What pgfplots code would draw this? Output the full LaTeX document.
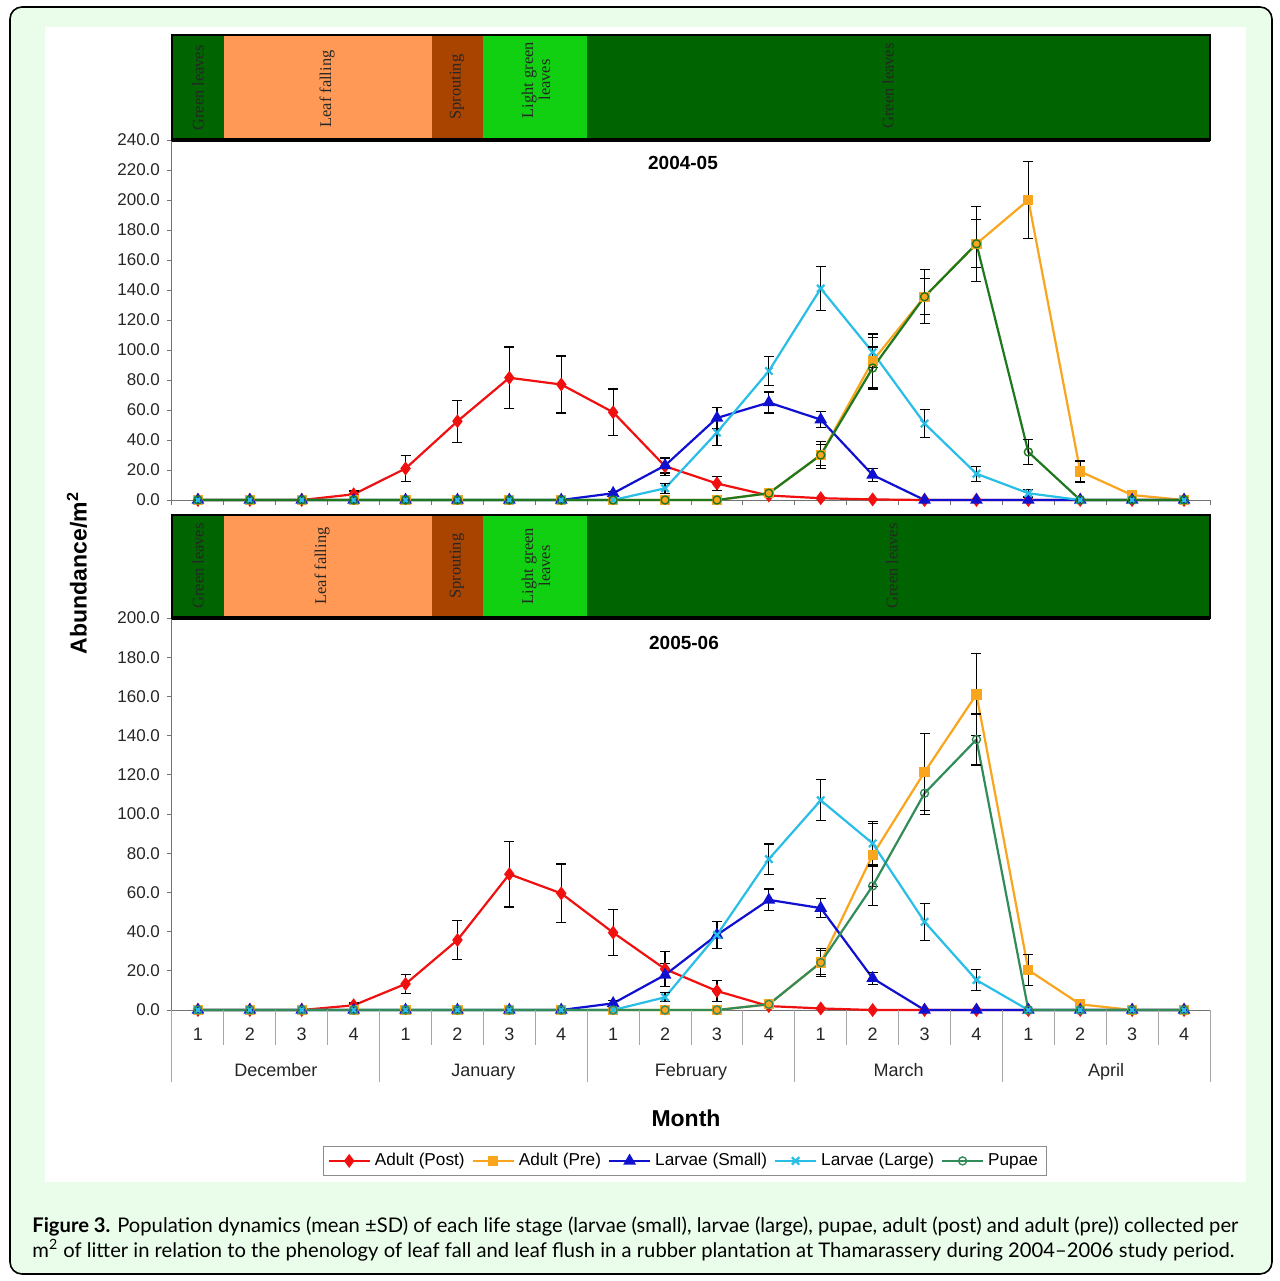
\documentclass[border=0pt]{standalone}
\usepackage{pgfplots}
\pgfplotsset{compat=1.18}
\usepackage{fontspec}
\setmainfont{Liberation Sans}
\newfontfamily\serifband{Liberation Serif}
\newfontfamily\capfont{Lato}
\definecolor{bgg}{RGB}{234,253,235}
\definecolor{bgreen}{RGB}{0,100,0}
\definecolor{leaffall}{RGB}{255,153,85}
\definecolor{sprout}{RGB}{169,67,0}
\definecolor{lgreen}{RGB}{17,208,17}
\definecolor{cred}{RGB}{240,16,16}
\definecolor{corange}{RGB}{250,165,30}
\definecolor{cblue}{RGB}{16,16,208}
\definecolor{ccyan}{RGB}{40,190,230}
\definecolor{cpupa}{RGB}{30,120,30}
\definecolor{cpupb}{RGB}{50,140,90}
\pgfplotsset{
  base/.style={
    scale only axis, width=519pt, xmin=-0.5, xmax=19.5, clip=false,
    axis x line*=bottom, axis y line*=left,
    axis line style={draw=black!55, line width=0.5pt},
    tick align=outside, major tick length=2.5pt,
    tick style={draw=black!55, line width=0.5pt},
    ytick pos=left,
    yticklabel style={font=\fontsize{8.5}{10}\selectfont, text=black!85,
      /pgf/number format/fixed, /pgf/number format/fixed zerofill,
      /pgf/number format/precision=1, /pgf/number format/assume math mode=true},
  },
  ap/.style={color=cred, line width=1.1pt, mark=diamond*, mark size=2.6pt, mark options={solid, fill=cred}},
  apr/.style={color=corange, line width=1.1pt, mark=square*, mark size=2pt, mark options={solid, fill=corange}},
  ls/.style={color=cblue, line width=1.1pt, mark=triangle*, mark size=2.6pt, mark options={solid, fill=cblue}},
  ll/.style={color=ccyan, line width=1.1pt, mark=x, mark size=2.6pt, mark options={solid}},
  pua/.style={color=cpupa, line width=1.1pt, mark=o, mark size=2pt, mark options={solid, line width=0.7pt}},
  pub/.style={color=cpupb, line width=1.1pt, mark=o, mark size=2pt, mark options={solid, line width=0.7pt}},
  err/.style={draw=none, mark=none, forget plot,
    error bars/.cd, y dir=both, y explicit,
    error bar style={draw=black, line width=0.6pt},
    error mark options={draw=black, rotate=90, mark size=2.5pt, line width=0.6pt}},
}
\begin{document}
\begin{tikzpicture}[x=0.5pt,y=-0.5pt]
\useasboundingbox (0,0) rectangle (1280,1281);
\fill[white] (0,0) rectangle (1280,1281);
\draw[line width=0.8pt, fill=bgg, rounded corners=6pt] (10,7) rectangle (1272,1274);
\fill[white] (45,27) rectangle (1246,1182);

% ---------------- top axis 2004-05
\begin{axis}[base, at={(86pt,-250pt)}, anchor=south west, height=180pt,
  ymin=0, ymax=240, ytick={0,20,...,240},
  xtick={-0.5,0.5,...,19.5}, xticklabels={}]
\addplot[ap] coordinates {(0,0)(1,0)(2,0)(3,3.8)(4,21)(5,52.5)(6,81.5)(7,77)(8,58.5)(9,22.5)(10,11)(11,3)(12,1.2)(13,0.4)(14,0)(15,0)(16,0)(17,0)(18,0)(19,0)};
\addplot[err] coordinates {(3,3.8)+-(0,2.2)(4,21)+-(0,8.5)(5,52.5)+-(0,14)(6,81.5)+-(0,20.5)(7,77)+-(0,19)(8,58.5)+-(0,15.5)(9,22.5)+-(0,6)(10,11)+-(0,4.5)};
\addplot[apr] coordinates {(0,0)(1,0)(2,0)(3,0)(4,0)(5,0)(6,0)(7,0)(8,0)(9,0)(10,0)(11,4.5)(12,30)(13,92.7)(14,135.5)(15,170.8)(16,200)(17,19)(18,3.3)(19,0)};
\addplot[err] coordinates {(11,4.5)+-(0,1.5)(12,30)+-(0,9)(13,92.7)+-(0,18)(14,135.5)+-(0,18)(15,170.8)+-(0,25)(16,200)+-(0,25.5)(17,19)+-(0,7)(18,3.3)+-(0,2.2)};
\addplot[ls] coordinates {(0,0)(1,0)(2,0)(3,0)(4,0)(5,0)(6,0)(7,0)(8,4.5)(9,23)(10,54.7)(11,65)(12,53.6)(13,16.7)(14,0)(15,0)(16,0)(17,0)(18,0)(19,0)};
\addplot[err] coordinates {(8,4.5)+-(0,1)(9,23)+-(0,5)(10,54.7)+-(0,7)(11,65)+-(0,7)(12,53.6)+-(0,5.5)(13,16.7)+-(0,4.5)};
\addplot[ll] coordinates {(0,0)(1,0)(2,0)(3,0)(4,0)(5,0)(6,0)(7,0)(8,0)(9,7.8)(10,45)(11,86)(12,141)(13,98.5)(14,51)(15,17.5)(16,4.5)(17,0)(18,0)(19,0)};
\addplot[err] coordinates {(9,7.8)+-(0,3.3)(10,45)+-(0,8.5)(11,86)+-(0,9.5)(12,141)+-(0,14.5)(13,98.5)+-(0,10)(14,51)+-(0,9.5)(15,17.5)+-(0,5)(16,4.5)+-(0,2.5)};
\addplot[pua] coordinates {(0,0)(1,0)(2,0)(3,0)(4,0)(5,0)(6,0)(7,0)(8,0)(9,0)(10,0)(11,4.5)(12,30)(13,88)(14,135.5)(15,170.8)(16,32)(17,0)(18,0)(19,0)};
\addplot[err] coordinates {(11,4.5)+-(0,1)(12,30)+-(0,7)(13,88)+-(0,14)(14,135.5)+-(0,12)(15,170.8)+-(0,16)(16,32)+-(0,8.5)};
\end{axis}

% ---------------- bottom axis 2005-06
\begin{axis}[base, at={(86pt,-505pt)}, anchor=south west, height=196pt,
  ymin=0, ymax=200, ytick={0,20,...,200},
  xtick={0,...,19}, xticklabels={1,2,3,4,1,2,3,4,1,2,3,4,1,2,3,4,1,2,3,4},
  xtick style={draw=none},
  xticklabel style={font=\fontsize{9}{10}\selectfont, text=black!85, yshift=-3pt},
  legend columns=5,
  legend style={at={(0.494,-0.385)}, anchor=center, draw=black!45, line width=0.4pt,
    font=\fontsize{8.6}{10}\selectfont, inner xsep=2pt, inner ysep=1.5pt,
    /tikz/every even column/.append style={column sep=1.5pt}},
  legend image code/.code={\draw[mark repeat=2,mark phase=2] plot coordinates {(0cm,0cm) (0.36cm,0cm) (0.72cm,0cm)};}]
\addplot[ap] coordinates {(0,0)(1,0)(2,0)(3,2.4)(4,13.3)(5,35.7)(6,69.3)(7,59.5)(8,39.5)(9,20.9)(10,9.7)(11,2)(12,0.8)(13,0)(14,0)(15,0)(16,0)(17,0)(18,0)(19,0)};
\addplot[err] coordinates {(3,2.4)+-(0,1.2)(4,13.3)+-(0,5)(5,35.7)+-(0,10)(6,69.3)+-(0,16.7)(7,59.5)+-(0,15)(8,39.5)+-(0,11.7)(9,20.9)+-(0,8.9)(10,9.7)+-(0,5.5)};
\addplot[apr] coordinates {(0,0)(1,0)(2,0)(3,0)(4,0)(5,0)(6,0)(7,0)(8,0)(9,0)(10,0)(11,2.9)(12,24.2)(13,79.1)(14,121.4)(15,161)(16,20.4)(17,2.9)(18,0)(19,0)};
\addplot[err] coordinates {(11,2.9)+-(0,1)(12,24.2)+-(0,7)(13,79.1)+-(0,16)(14,121.4)+-(0,19.5)(15,161)+-(0,21)(16,20.4)+-(0,8)(17,2.9)+-(0,1)};
\addplot[ls] coordinates {(0,0)(1,0)(2,0)(3,0)(4,0)(5,0)(6,0)(7,0)(8,3.4)(9,17.9)(10,38.3)(11,56.2)(12,52)(13,16.2)(14,0)(15,0)(16,0)(17,0)(18,0)(19,0)};
\addplot[err] coordinates {(8,3.4)+-(0,1.5)(9,17.9)+-(0,6)(10,38.3)+-(0,7)(11,56.2)+-(0,5.5)(12,52)+-(0,5)(13,16.2)+-(0,3)};
\addplot[ll] coordinates {(0,0)(1,0)(2,0)(3,0)(4,0)(5,0)(6,0)(7,0)(8,0)(9,6.5)(10,38.3)(11,77)(12,107)(13,85)(14,45)(15,15.3)(16,0)(17,0)(18,0)(19,0)};
\addplot[err] coordinates {(9,6.5)+-(0,2.3)(10,38.3)+-(0,7)(11,77)+-(0,7.7)(12,107)+-(0,10.5)(13,85)+-(0,11)(14,45)+-(0,9.5)(15,15.3)+-(0,5.3)};
\addplot[pub] coordinates {(0,0)(1,0)(2,0)(3,0)(4,0)(5,0)(6,0)(7,0)(8,0)(9,0)(10,0)(11,2.9)(12,24.2)(13,63.3)(14,110.6)(15,138)(16,0)(17,0)(18,0)(19,0)};
\addplot[err] coordinates {(11,2.9)+-(0,1)(12,24.2)+-(0,6)(13,63.3)+-(0,10)(14,110.6)+-(0,11)(15,138)+-(0,13)};
\legend{Adult (Post),Adult (Pre),Larvae (Small),Larvae (Large),Pupae}
\pgfplotsinvokeforeach{0.5,1.5,2.5,4.5,5.5,6.5,8.5,9.5,10.5,12.5,13.5,14.5,16.5,17.5,18.5}{
  \draw[black!35, line width=0.5pt] (axis cs:#1,0) -- ++(0pt,-17.5pt);}
\pgfplotsinvokeforeach{-0.5,3.5,7.5,11.5,15.5,19.5}{
  \draw[black!35, line width=0.5pt] (axis cs:#1,0) -- ++(0pt,-36pt);}
\tikzset{monthlbl/.style={anchor=base, font=\fontsize{9}{10}\selectfont, text=black!85, yshift=-33pt}}
\node[monthlbl] at (axis cs:1.5,0) {December};
\node[monthlbl] at (axis cs:5.5,0) {January};
\node[monthlbl] at (axis cs:9.5,0) {February};
\node[monthlbl] at (axis cs:13.5,0) {March};
\node[monthlbl] at (axis cs:17.5,0) {April};
\end{axis}

% ---------------- phenology bands
\foreach \ya/\yb in {35/140, 515/618} {
  \fill[bgreen] (172,\ya) rectangle (1210,\yb);
  \fill[leaffall] (223.9,\ya) rectangle (431.5,\yb);
  \fill[sprout] (431.5,\ya) rectangle (483.4,\yb);
  \fill[lgreen] (483.4,\ya) rectangle (587.2,\yb);
  \draw[black, line width=1pt] (172,\ya) rectangle (1210,\yb);
  \draw[black, line width=2pt] (172,\yb) -- (1210,\yb);
}
\tikzset{bandtxt/.style={rotate=90, align=center, text=black!85, font=\serifband\fontsize{8.2}{8.6}\selectfont}}
\node[bandtxt] at (198,88) {Green leaves};
\node[bandtxt] at (327,89) {Leaf falling};
\node[bandtxt] at (457,87) {Sprouting};
\node[bandtxt] at (536,80) {Light green\\leaves};
\node[bandtxt] at (888,86) {Green leaves};
\node[bandtxt] at (198,566) {Green leaves};
\node[bandtxt] at (322,566) {Leaf falling};
\node[bandtxt] at (457,566) {Sprouting};
\node[bandtxt] at (536,566) {Light green\\leaves};
\node[bandtxt] at (892,566) {Green leaves};

% ---------------- titles and labels
\node[font=\bfseries\fontsize{9.5}{11}\selectfont] at (683,163) {2004-05};
\node[font=\bfseries\fontsize{9.5}{11}\selectfont] at (684,643) {2005-06};
\node[font=\bfseries\fontsize{11.5}{13}\selectfont] at (686,1118) {Month};
\node[rotate=90, font=\bfseries\fontsize{11.5}{13}\selectfont] at (77,573) {Abundance/m\textsuperscript{2}};

% ---------------- caption
\node[anchor=base west, inner sep=0pt, font=\capfont\fontsize{10.1}{12}\selectfont] at (32,1232)
  {\textbf{Figure 3.} Population dynamics (mean ±SD) of each life stage (larvae (small), larvae (large), pupae, adult (post) and adult (pre)) collected per};
\node[anchor=base west, inner sep=0pt, font=\capfont\fontsize{10.1}{12}\selectfont] at (32,1257)
  {m\textsuperscript{2} of litter in relation to the phenology of leaf fall and leaf flush in a rubber plantation at Thamarassery during 2004–2006 study period.};
\end{tikzpicture}
\end{document}
